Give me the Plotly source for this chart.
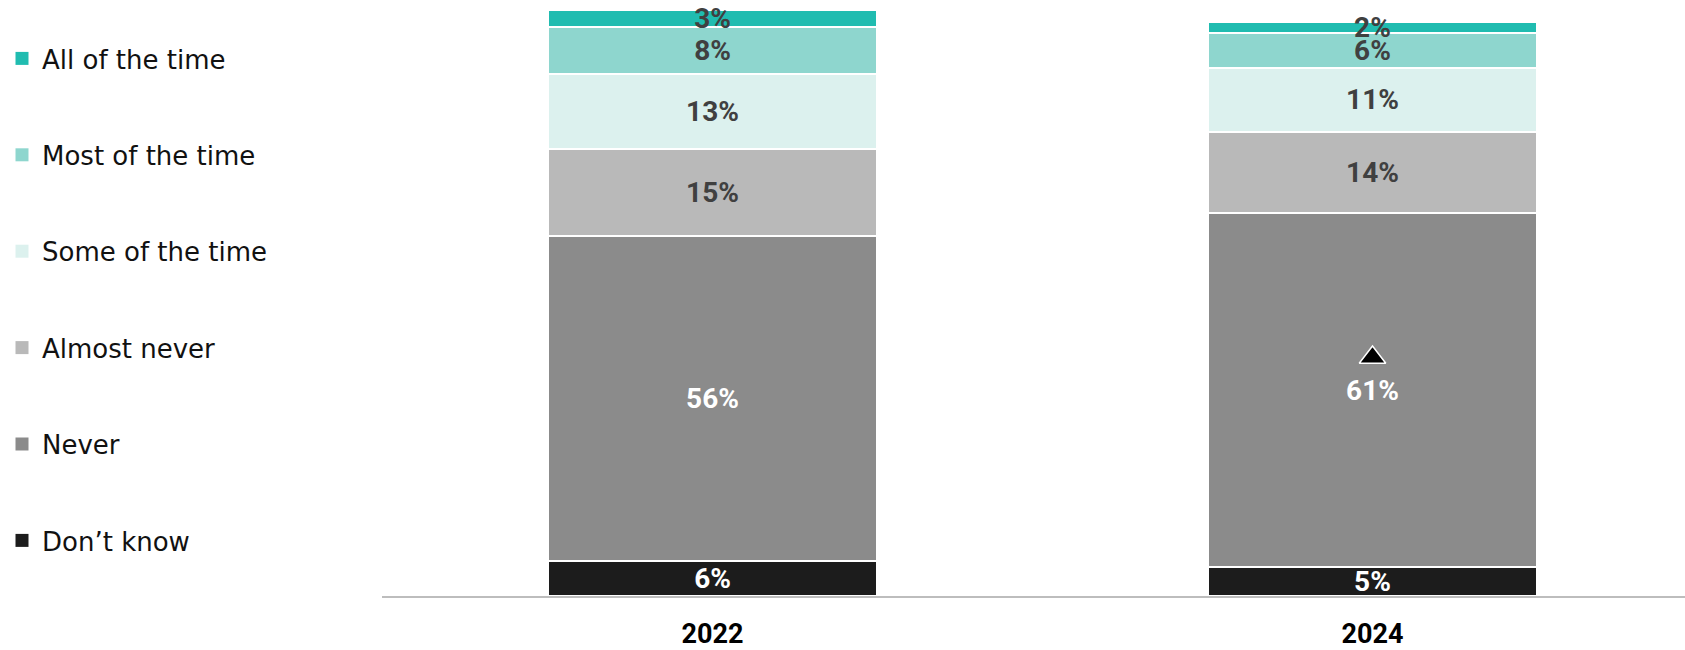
import plotly.graph_objects as go

# Survey periods
years = ["2022", "2024"]

# Response categories, bottom of the stack first
categories = ["Don\u2019t know", "Never", "Almost never", "Some of the time",
              "Most of the time", "All of the time"]

# Share of respondents (%) per category and period
dont_know = [6, 5]
never = [56, 61]
almost_never = [15, 14]
some_of_the_time = [13, 11]
most_of_the_time = [8, 6]
all_of_the_time = [3, 2]

# Significant increase versus previous wave, flagged on the "Never" segment
never_sig_up = [False, True]

series = [dont_know, never, almost_never, some_of_the_time,
          most_of_the_time, all_of_the_time]
colors = ["#1C1C1C", "#8B8B8B", "#B9B9B9", "#DCF1EE", "#8ED6CE", "#20BCB0"]
label_colors = ["#FFFFFF", "#FFFFFF", "#404040", "#404040", "#404040", "#404040"]

fig = go.Figure()
for name, vals, col, tcol in zip(categories, series, colors, label_colors):
    fig.add_trace(go.Bar(
        x=years,
        y=vals,
        name=name,
        showlegend=False,
        marker=dict(color=col, line=dict(color="#FFFFFF", width=2)),
        width=0.498,
        text=[f"{v}%" for v in vals],
        textposition="inside",
        insidetextanchor="middle",
        textangle=0,
        constraintext="none",
        cliponaxis=False,
        textfont=dict(family="Roboto", size=28, color=tcol, weight="bold"),
        hoverinfo="skip",
    ))

# Up-arrow marker above the label of significantly higher "Never" values
sig_x, sig_y = [], []
for i, flag in enumerate(never_sig_up):
    if flag:
        sig_x.append(years[i])
        sig_y.append(dont_know[i] + never[i] / 2 + 5.6)
fig.add_trace(go.Scatter(
    x=sig_x, y=sig_y, mode="markers", showlegend=False, hoverinfo="skip",
    cliponaxis=False,
    marker=dict(symbol="triangle-up", size=23, color="#000000",
                line=dict(color="#FFFFFF", width=1.5)),
))

# Legend entries (square swatches), listed from the top of the stack down
for name, col in reversed(list(zip(categories, colors))):
    fig.add_trace(go.Scatter(
        x=[None], y=[None], mode="markers", name=name, legendgroup=name,
        marker=dict(symbol="square", size=13, color=col),
        hoverinfo="skip",
    ))

fig.update_layout(
    width=1685,
    height=650,
    margin=dict(l=382, r=0, t=10, b=54, autoexpand=False),
    barmode="stack",
    plot_bgcolor="#FFFFFF",
    paper_bgcolor="#FFFFFF",
    showlegend=True,
    legend=dict(
        xref="container", yref="container",
        x=2 / 1685, y=1 - 35 / 650, xanchor="left", yanchor="top",
        traceorder="grouped",
        tracegroupgap=59.6,
        maxheight=1,
        itemwidth=30,
        font=dict(family="DejaVu Sans", size=26, color="#111111"),
        bgcolor="rgba(0,0,0,0)",
    ),
    xaxis=dict(
        type="category",
        range=[-0.5008, 1.4735],
        automargin=False,
        showline=True, linecolor="#BDBDBD", linewidth=2,
        showgrid=False, zeroline=False, ticks="",
        ticklabelstandoff=13,
        tickfont=dict(family="Roboto", size=27, color="#000000", weight="bold"),
    ),
    yaxis=dict(
        range=[0, 101],
        automargin=False,
        visible=False, showgrid=False, zeroline=False,
    ),
)

fig.write_html("out.html")
